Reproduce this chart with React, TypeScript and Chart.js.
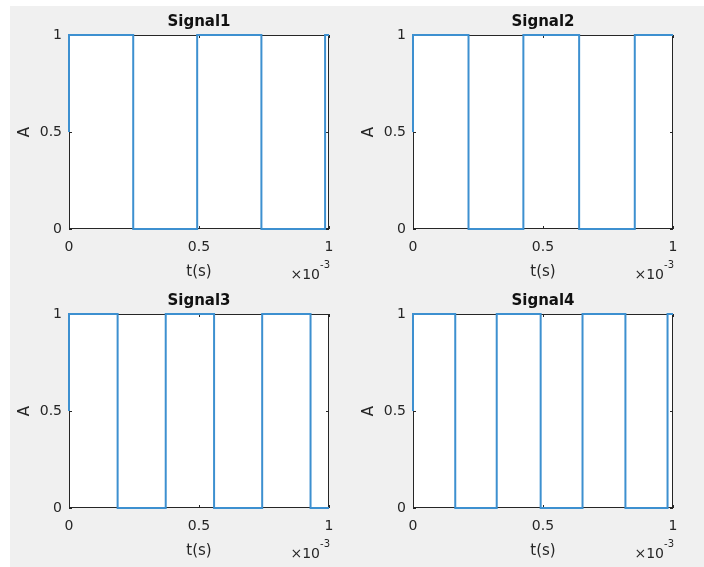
import React, { useEffect, useRef } from "react";
import { Chart, registerables } from "chart.js";

Chart.register(...registerables);

// Switching instants (s) of each square wave and the level that begins at each instant
const signal1Times = [0, 0, 0.000247, 0.000493, 0.00074, 0.000985, 0.001];
const signal1Levels = [0.5, 1, 0, 1, 0, 1, 1];

const signal2Times = [0, 0, 0.0002135, 0.0004245, 0.000639, 0.000853, 0.001];
const signal2Levels = [0.5, 1, 0, 1, 0, 1, 1];

const signal3Times = [0, 0, 0.000187, 0.000372, 0.000558, 0.000743, 0.000929, 0.001];
const signal3Levels = [0.5, 1, 0, 1, 0, 1, 0, 0];

const signal4Times = [0, 0, 0.0001625, 0.000322, 0.000491, 0.000652, 0.000817, 0.000979, 0.001];
const signal4Levels = [0.5, 1, 0, 1, 0, 1, 0, 1, 1];

const panelTitles = ["Signal1", "Signal2", "Signal3", "Signal4"];
const xTickValues = [0, 0.0005, 0.001];
const yTickValues = [0, 0.5, 1];
const xAxisLabel = "t(s)";
const yAxisLabel = "A";
const xExponentBase = "\u00d710";
const xExponentPower = "-3";

const FONT = "'DejaVu Sans', 'Liberation Sans', Arial, sans-serif";
const TEXT = "#262626";
const LINE = "#3d90d0";

type Panel = {
  title: string;
  times: number[];
  levels: number[];
  left: number;
  top: number;
};

const panels: Panel[] = [
  { title: panelTitles[0], times: signal1Times, levels: signal1Levels, left: 0, top: 0 },
  { title: panelTitles[1], times: signal2Times, levels: signal2Levels, left: 344, top: 0 },
  { title: panelTitles[2], times: signal3Times, levels: signal3Levels, left: 0, top: 279 },
  { title: panelTitles[3], times: signal4Times, levels: signal4Levels, left: 344, top: 279 },
];

const CANVAS_W = 352;
const CANVAS_H = 286;

// White axes box, dark frame and inward tick marks on all four sides
const framePlugin = {
  id: "matlabFrame",
  beforeDraw(chart: any) {
    const { ctx, chartArea: a } = chart;
    ctx.save();
    ctx.fillStyle = "#ffffff";
    ctx.fillRect(a.left, a.top, a.right - a.left, a.bottom - a.top);
    ctx.restore();
  },
  beforeDatasetsDraw(chart: any) {
    const { ctx, chartArea: a, scales } = chart;
    ctx.save();
    ctx.strokeStyle = TEXT;
    ctx.lineWidth = 1;
    ctx.strokeRect(a.left + 0.5, a.top + 0.5, a.right - a.left - 1, a.bottom - a.top - 1);
    const len = 3;
    ctx.beginPath();
    scales.x.ticks.forEach((t: any) => {
      const px = Math.round(scales.x.getPixelForValue(t.value)) + 0.5;
      ctx.moveTo(px, a.bottom);
      ctx.lineTo(px, a.bottom - len);
      ctx.moveTo(px, a.top);
      ctx.lineTo(px, a.top + len);
    });
    scales.y.ticks.forEach((t: any) => {
      const py = Math.round(scales.y.getPixelForValue(t.value)) + 0.5;
      ctx.moveTo(a.left, py);
      ctx.lineTo(a.left + len, py);
      ctx.moveTo(a.right, py);
      ctx.lineTo(a.right - len, py);
    });
    ctx.stroke();
    ctx.restore();
  },
  afterDraw(chart: any) {
    const { ctx, chartArea: a } = chart;
    ctx.save();
    ctx.fillStyle = TEXT;
    ctx.textBaseline = "middle";
    ctx.textAlign = "left";
    ctx.font = `10px ${FONT}`;
    const wPow = ctx.measureText(xExponentPower).width;
    ctx.font = `14px ${FONT}`;
    const wBase = ctx.measureText(xExponentBase).width;
    const right = a.right + 1;
    ctx.fillText(xExponentBase, right - wPow - wBase, a.bottom + 46.5);
    ctx.font = `10px ${FONT}`;
    ctx.fillText(xExponentPower, right - wPow, a.bottom + 36);
    ctx.restore();
  },
};

function SignalPanel({ panel }: { panel: Panel }) {
  const ref = useRef<HTMLCanvasElement | null>(null);

  useEffect(() => {
    if (!ref.current) return;
    const chart = new Chart(ref.current, {
      type: "line",
      data: {
        datasets: [
          {
            data: panel.times.map((t, i) => ({ x: t, y: panel.levels[i] })),
            stepped: "before",
            borderColor: LINE,
            borderWidth: 2,
            borderJoinStyle: "miter",
            pointRadius: 0,
            fill: false,
            clip: false,
          },
        ],
      },
      options: {
        animation: false,
        responsive: false,
        maintainAspectRatio: false,
        events: [],
        layout: { padding: { left: 0, right: 23, top: 0, bottom: 0 } },
        plugins: {
          legend: { display: false },
          tooltip: { enabled: false },
          title: {
            display: true,
            text: panel.title,
            fullSize: false,
            color: "#111111",
            font: { family: FONT, size: 15, weight: "bold" },
            padding: { top: 13, bottom: 4 },
          },
        },
        scales: {
          x: {
            type: "linear",
            min: 0,
            max: 0.001,
            afterBuildTicks: (s: any) => {
              s.ticks = xTickValues.map((v) => ({ value: v }));
            },
            afterFit: (s: any) => {
              s.height = CANVAS_H - 229;
            },
            grid: { display: false, drawTicks: false },
            border: { display: false },
            ticks: {
              padding: 10,
              color: TEXT,
              font: { family: FONT, size: 14 },
              maxRotation: 0,
              autoSkip: false,
              callback: (v: any) => String(Math.round(Number(v) * 1e4) / 10),
            },
            title: {
              display: true,
              text: xAxisLabel,
              color: TEXT,
              font: { family: FONT, size: 15 },
              padding: { top: 0, bottom: 5 },
            },
          },
          y: {
            type: "linear",
            min: 0,
            max: 1,
            afterBuildTicks: (s: any) => {
              s.ticks = yTickValues.map((v) => ({ value: v }));
            },
            afterFit: (s: any) => {
              s.width = 69;
            },
            grid: { display: false, drawTicks: false },
            border: { display: false },
            ticks: {
              padding: 7,
              color: TEXT,
              font: { family: FONT, size: 14 },
              autoSkip: false,
              callback: (v: any) => String(v),
            },
            title: {
              display: true,
              text: yAxisLabel,
              color: TEXT,
              font: { family: FONT, size: 15 },
              padding: { top: 16, bottom: 0 },
            },
          },
        },
      } as any,
      plugins: [framePlugin],
    });
    return () => chart.destroy();
  }, [panel]);

  return (
    <canvas
      ref={ref}
      width={CANVAS_W}
      height={CANVAS_H}
      style={{
        position: "absolute",
        left: panel.left,
        top: panel.top,
        width: CANVAS_W,
        height: CANVAS_H,
        display: "block",
      }}
    />
  );
}

export default function App() {
  return (
    <div
      style={{
        position: "absolute",
        left: 0,
        top: 0,
        width: 704,
        height: 567,
        background: "#ffffff",
        overflow: "hidden",
      }}
    >
      <div
        style={{
          position: "absolute",
          left: 10,
          top: 6,
          right: 0,
          bottom: 0,
          background: "#f0f0f0",
        }}
      />
      {panels.map((p) => (
        <SignalPanel key={p.title} panel={p} />
      ))}
    </div>
  );
}
